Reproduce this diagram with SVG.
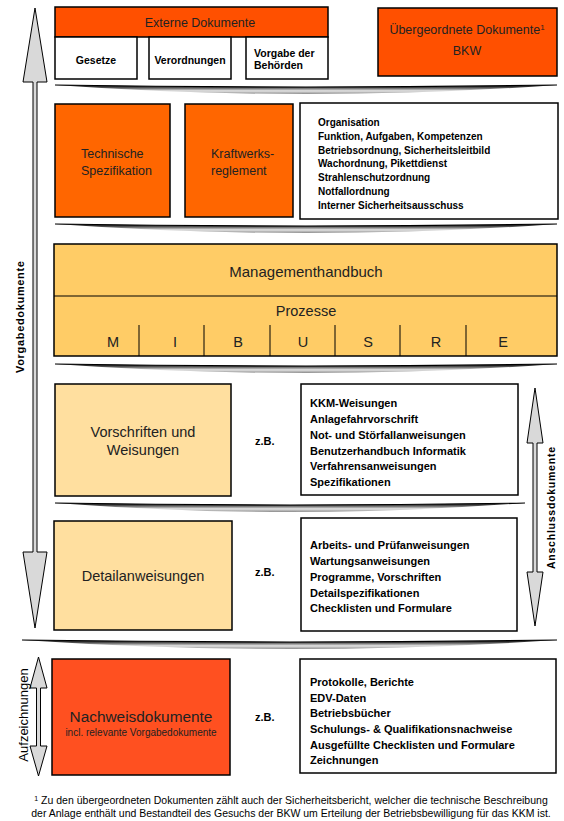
<svg xmlns="http://www.w3.org/2000/svg" width="564" height="821" viewBox="0 0 564 821">
<defs>
<linearGradient id="sepg" x1="0" y1="0" x2="0" y2="1">
<stop offset="0" stop-color="#000"/>
<stop offset="0.3" stop-color="#555"/>
<stop offset="0.65" stop-color="#e6e6e6"/>
<stop offset="1" stop-color="#8a8a8a"/>
</linearGradient>
</defs>
<style>
text{font-family:"Liberation Sans",Arial,sans-serif}
.box{stroke:#000;stroke-width:1.5}
.o1{fill:#FF5000}
.o2{fill:#FF6600}
.o3{fill:#FF5020}
.y1{fill:#FFCC66}
.y2{fill:#FFDF9F}
.w{fill:#fff}
.t{fill:#222}
.b{font-weight:bold;fill:#000}
.arr{fill:#d9d9d9;stroke:#000;stroke-width:1}
.sep{fill:url(#sepg)}
.sepl{fill:none;stroke:#000;stroke-width:1.2}
.ln{stroke:#000;stroke-width:1}
</style>
<rect width="564" height="821" fill="#fff"/>

<g id="connectors">
<polygon class="arr" points="35,8 47,82 37,82 37,552 47,552 35,628 23,552 33,552 33,82 23,82"/>
<polygon class="arr" points="535,388 543,443 537,443 537,572 543,572 535,626 527,572 533,572 533,443 527,443"/>
<polygon class="arr" points="38.5,657 47,688 40.5,688 40.5,746 47,746 38.5,776 30,746 36.5,746 36.5,688 30,688"/>
<text class="b" font-size="11" transform="translate(24,317) rotate(-90)" text-anchor="middle" textLength="112" lengthAdjust="spacing">Vorgabedokumente</text>
<text class="b" font-size="10.5" transform="translate(555,508) rotate(-90)" text-anchor="middle" textLength="122" lengthAdjust="spacing">Anschlussdokumente</text>
<text font-size="13" fill="#000" transform="translate(27.5,715) rotate(-90)" text-anchor="middle">Aufzeichnungen</text>
</g>

<g id="separators">
<path class="sep" d="M55,85 Q306,89 557,85 Q306,103 55,85 Z"/>
<path class="sepl" d="M55,85 Q306,89 557,85"/>
<path class="sep" d="M55,224 Q306,228 557,224 Q306,242 55,224 Z"/>
<path class="sepl" d="M55,224 Q306,228 557,224"/>
<path class="sep" d="M55,364 Q306,368 557,364 Q306,382 55,364 Z"/>
<path class="sepl" d="M55,364 Q306,368 557,364"/>
<path class="sep" d="M55,503 Q290,507 525,503 Q290,521 55,503 Z"/>
<path class="sepl" d="M55,503 Q290,507 525,503"/>
<path class="sep" d="M22,640 Q290,644 557,640 Q290,658 22,640 Z"/>
<path class="sepl" d="M22,640 Q290,644 557,640"/>
</g>

<g id="externe">
<rect class="box o1" x="55" y="7" width="273" height="30"/>
<text class="t" font-size="12.5" x="200" y="27" text-anchor="middle">Externe Dokumente</text>
<rect class="box w" x="55" y="37" width="82" height="42"/>
<text class="b" font-size="10.5" x="96" y="64" text-anchor="middle">Gesetze</text>
<rect class="box w" x="149" y="37" width="82" height="42"/>
<text class="b" font-size="10.5" x="190" y="64" text-anchor="middle">Verordnungen</text>
<rect class="box w" x="246" y="37" width="82" height="42"/>
<text class="b" font-size="10.5" x="254" y="56.5">Vorgabe der</text>
<text class="b" font-size="10.5" x="254" y="69">Behörden</text>
</g>

<g id="uebergeordnet">
<rect class="box o1" x="378" y="8" width="179" height="68"/>
<text class="t" font-size="12.5" x="467" y="34" text-anchor="middle">Übergeordnete Dokumente<tspan font-size="8" dy="-4">1</tspan></text>
<text class="t" font-size="12.5" x="467" y="55" text-anchor="middle">BKW</text>
</g>

<g id="technische">
<rect class="box o2" x="55" y="104" width="115" height="113"/>
<text class="t" font-size="12.5" x="81" y="157.5">Technische</text>
<text class="t" font-size="12.5" x="81" y="174.5">Spezifikation</text>
</g>

<g id="kraftwerk">
<rect class="box o2" x="185" y="104" width="108" height="113"/>
<text class="t" font-size="12.5" x="211" y="157.5">Kraftwerks-</text>
<text class="t" font-size="12.5" x="211" y="174.5">reglement</text>
</g>

<g id="organisation">
<rect class="box w" x="300" y="103" width="258" height="116"/>
<g class="b" font-size="10">
<text x="318" y="126">Organisation</text>
<text x="318" y="139.8">Funktion, Aufgaben, Kompetenzen</text>
<text x="318" y="153.5">Betriebsordnung, Sicherheitsleitbild</text>
<text x="318" y="167.3">Wachordnung, Pikettdienst</text>
<text x="318" y="181">Strahlenschutzordnung</text>
<text x="318" y="194.8">Notfallordnung</text>
<text x="318" y="208.5">Interner Sicherheitsausschuss</text>
</g>
</g>

<g id="management">
<rect class="box y1" x="54" y="244" width="503" height="112"/>
<line class="ln" x1="54" y1="296" x2="557" y2="296"/>
<text class="t" font-size="15" x="306" y="277" text-anchor="middle">Managementhandbuch</text>
<text class="t" font-size="14.5" x="306" y="316" text-anchor="middle">Prozesse</text>
<g class="ln">
<line x1="139" y1="325" x2="139" y2="356"/>
<line x1="204" y1="325" x2="204" y2="356"/>
<line x1="270" y1="325" x2="270" y2="356"/>
<line x1="335" y1="325" x2="335" y2="356"/>
<line x1="400" y1="325" x2="400" y2="356"/>
<line x1="466" y1="325" x2="466" y2="356"/>
</g>
<g class="t" font-size="14.5" text-anchor="middle">
<text x="113" y="347">M</text>
<text x="175" y="347">I</text>
<text x="238" y="347">B</text>
<text x="303" y="347">U</text>
<text x="368" y="347">S</text>
<text x="436" y="347">R</text>
<text x="503" y="347">E</text>
</g>
</g>

<g id="vorschriften">
<rect class="box y2" x="55" y="384" width="176" height="112"/>
<text class="t" font-size="14.5" x="143" y="437" text-anchor="middle">Vorschriften und</text>
<text class="t" font-size="14.5" x="143" y="455" text-anchor="middle">Weisungen</text>
<text class="b" font-size="11" x="255" y="445">z.B.</text>
</g>

<g id="vorschriften-liste">
<rect class="box w" x="301" y="384" width="217" height="111"/>
<g class="b" font-size="11">
<text x="310" y="407">KKM-Weisungen</text>
<text x="310" y="423">Anlagefahrvorschrift</text>
<text x="310" y="439">Not- und Störfallanweisungen</text>
<text x="310" y="454.5">Benutzerhandbuch Informatik</text>
<text x="310" y="470">Verfahrensanweisungen</text>
<text x="310" y="486">Spezifikationen</text>
</g>
</g>

<g id="detail">
<rect class="box y2" x="54" y="521" width="178" height="109"/>
<text class="t" font-size="14.5" x="143" y="581" text-anchor="middle">Detailanweisungen</text>
<text class="b" font-size="11" x="255" y="576">z.B.</text>
</g>

<g id="detail-liste">
<rect class="box w" x="301" y="518" width="216" height="113"/>
<g class="b" font-size="11">
<text x="310" y="549">Arbeits- und Prüfanweisungen</text>
<text x="310" y="565">Wartungsanweisungen</text>
<text x="310" y="581">Programme, Vorschriften</text>
<text x="310" y="597">Detailspezifikationen</text>
<text x="310" y="612">Checklisten und Formulare</text>
</g>
</g>

<g id="nachweis">
<rect class="box o3" x="52" y="659" width="178" height="116"/>
<text class="t" font-size="15.4" x="141" y="722" text-anchor="middle">Nachweisdokumente</text>
<text class="t" font-size="10" x="141" y="736" text-anchor="middle">incl. relevante Vorgabedokumente</text>
<text class="b" font-size="11" x="255" y="721">z.B.</text>
</g>

<g id="nachweis-liste">
<rect class="box w" x="300" y="659" width="256" height="114"/>
<g class="b" font-size="11">
<text x="310" y="686">Protokolle, Berichte</text>
<text x="310" y="702">EDV-Daten</text>
<text x="310" y="717">Betriebsbücher</text>
<text x="310" y="733">Schulungs- &amp; Qualifikationsnachweise</text>
<text x="310" y="749">Ausgefüllte Checklisten und Formulare</text>
<text x="310" y="764">Zeichnungen</text>
</g>
</g>

<g id="footnote" font-size="10.5" fill="#000">
<text x="291" y="804" text-anchor="middle"><tspan font-size="7" dy="-3">1</tspan><tspan dy="3"> Zu den übergeordneten Dokumenten zählt auch der Sicherheitsbericht, welcher die technische Beschreibung</tspan></text>
<text x="291" y="817" text-anchor="middle">der Anlage enthält und Bestandteil des Gesuchs der BKW um Erteilung der Betriebsbewilligung für das KKM ist.</text>
</g>
</svg>
